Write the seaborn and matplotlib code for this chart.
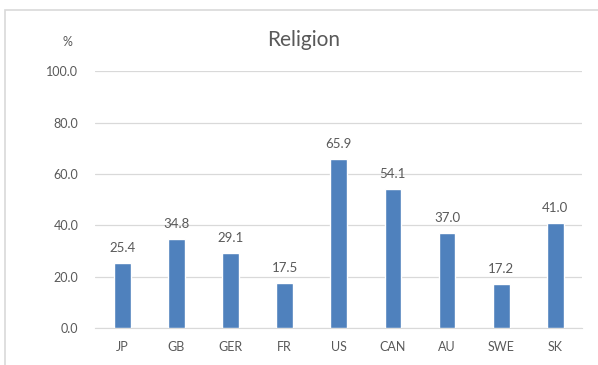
import matplotlib
matplotlib.use('Agg')
import matplotlib.pyplot as plt
import seaborn as sns
import pandas as pd
from matplotlib.patches import Rectangle

sns.set_style('white')
plt.rcParams['font.family'] = ['Lato', 'DejaVu Sans']

# data
countries = ['JP', 'GB', 'GER', 'FR', 'US', 'CAN', 'AU', 'SWE', 'SK']
values = [25.4, 34.8, 29.1, 17.5, 65.9, 54.1, 37.0, 17.2, 41.0]
yticks = [0, 20, 40, 60, 80, 100]

df = pd.DataFrame({'country': countries, 'value': values})

grey = '#595959'
fig = plt.figure(figsize=(5.98, 3.65), dpi=100)
ax = fig.add_axes([0.159, 0.101, 0.815, 0.704])

sns.barplot(data=df, x='country', y='value', color='#4f81bd', width=0.31,
            saturation=1, ax=ax, zorder=3)

ax.set_ylim(0, 100)
ax.set_yticks(yticks)
ax.set_yticklabels([f'{t:.1f}' for t in yticks])
ax.set_xlabel('')
ax.set_ylabel('')
ax.grid(axis='y', color='#d9d9d9', linewidth=0.9, zorder=0)
for s in ['top', 'right', 'left']:
    ax.spines[s].set_visible(False)
ax.spines['bottom'].set_color('#d9d9d9')
ax.tick_params(axis='both', length=0, labelsize=9, labelcolor=grey)
ax.tick_params(axis='x', pad=9)
ax.tick_params(axis='y', pad=12)

# value labels
for i, v in enumerate(values):
    ax.text(i, v + 3.5, f'{v:.1f}', ha='center', va='bottom', fontsize=9.5, color=grey)

# title and unit
fig.text(0.507, 0.89, 'Religion', ha='center', va='center', fontsize=15, color=grey)
fig.text(0.113, 0.885, '%', ha='center', va='center', fontsize=9, color=grey)

# chart frame
fig.patches.append(Rectangle((5 / 598, -0.1), 1.2, 1.1 - 10 / 365,
                             transform=fig.transFigure, fill=False,
                             edgecolor='#d9d9d9', linewidth=1.2))

fig.savefig('out.png', dpi=100)
